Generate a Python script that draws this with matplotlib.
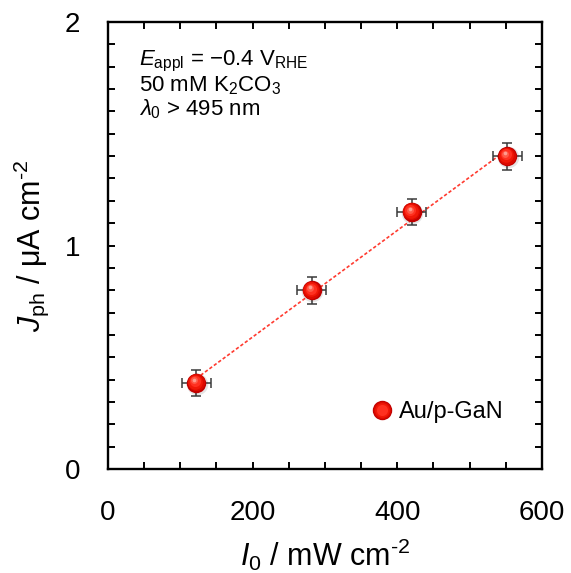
import numpy as np
import matplotlib
matplotlib.use("Agg")
import matplotlib.pyplot as plt
from matplotlib.lines import Line2D
from matplotlib.legend_handler import HandlerTuple
import matplotlib.transforms as mtransforms

# ------------------------------------------------------------
# Donnees
# ------------------------------------------------------------
intensite = [122, 282, 420, 552]          # I0 / mW cm-2
j_ph = [0.385, 0.80, 1.15, 1.40]          # Jph / uA cm-2
err_x = [20, 20, 20, 20]
err_y = [0.06, 0.06, 0.06, 0.06]
nom_serie = "Au/p-GaN"

x_ticks = [0, 200, 400, 600]
y_ticks = [0, 1, 2]

plt.rcParams["font.family"] = ["Liberation Sans", "DejaVu Sans"]
plt.rcParams["mathtext.fontset"] = "custom"
plt.rcParams["mathtext.rm"] = "Liberation Sans"
plt.rcParams["mathtext.it"] = "Liberation Sans:italic"
plt.rcParams["mathtext.bf"] = "Liberation Sans:bold"

fig = plt.figure(figsize=(5.71, 5.73), dpi=100)
ax = fig.add_axes([0.189, 0.1815, 0.760, 0.780])

# ligne d'ajustement lineaire
pente, origine = np.polyfit(intensite, j_ph, 1)
xf = np.array([intensite[0], intensite[-1]])
ax.plot(xf, pente * xf + origine, color="#ff3b30", lw=1.2,
        linestyle=(0, (2, 1.3)), zorder=2)

# barres d'erreur
ax.errorbar(intensite, j_ph, xerr=err_x, yerr=err_y, fmt="none",
            ecolor="#3a3a3a", elinewidth=1.1, capsize=3.5, capthick=1.1,
            zorder=3)

# marqueurs "sphere" : ombre + degrade
ombre = mtransforms.offset_copy(ax.transData, fig=fig, x=0.4, y=-0.6, units="points")
ax.scatter(intensite, j_ph, s=15.5 ** 2, color="#000000", alpha=0.10,
           lw=0, transform=ombre, zorder=4)
couches = [
    (14.0, "#c00000", 0.0, 0.0),
    (12.5, "#dc0a00", -0.3, 0.4),
    (10.5, "#f01808", -0.6, 0.8),
    (8.0, "#ff3020", -0.9, 1.2),
    (5.0, "#ff5a48", -1.2, 1.8),
    (2.6, "#ff9c90", -1.3, 2.4),
]
for taille, couleur, dx, dy in couches:
    tr = mtransforms.offset_copy(ax.transData, fig=fig, x=dx, y=dy, units="points")
    ax.scatter(intensite, j_ph, s=taille ** 2, color=couleur, lw=0,
               transform=tr, zorder=5)

ax.set_xlim(0, 600)
ax.set_ylim(0, 2)
ax.set_xticks(x_ticks)
ax.set_yticks(y_ticks)
ax.set_xticks(np.arange(0, 601, 50), minor=True)
ax.set_yticks(np.arange(0, 2.01, 0.1), minor=True)
ax.tick_params(which="both", direction="in", top=True, right=True,
               width=1.4, length=5)
ax.tick_params(axis="x", which="major", labelsize=20, pad=22)
ax.tick_params(axis="y", which="major", labelsize=20, pad=20)
for sp in ax.spines.values():
    sp.set_linewidth(1.7)

ax.set_xlabel(r"$I_\mathregular{0}$ / mW cm$^\mathregular{‐2}$", fontsize=22, labelpad=8)
ax.set_ylabel(r"$J_\mathregular{ph}$ / μA cm$^\mathregular{‐2}$", fontsize=22, labelpad=10)

# texte des conditions
lignes = [
    r"$E_\mathregular{appl}$ = −0.4 V$_\mathregular{RHE}$",
    r"50 mM K$_\mathregular{2}$CO$_\mathregular{3}$",
    r"$\lambda_\mathregular{0}$ > 495 nm",
]
for i, t in enumerate(lignes):
    ax.text(0.072, 0.912 - i * 0.054, t, transform=ax.transAxes,
            fontsize=16, va="center", ha="left")

# legende
h = tuple(Line2D([], [], ls="none", marker="o", markersize=m, color=c, mew=0)
          for m, c, _, _ in couches[:4])
ax.legend([h], [nom_serie], handler_map={tuple: HandlerTuple(ndivide=1)},
          loc="lower right", frameon=False, fontsize=17, handlelength=0.6,
          handletextpad=0.4, bbox_to_anchor=(0.96, 0.055))

fig.savefig("out.png", dpi=100)
